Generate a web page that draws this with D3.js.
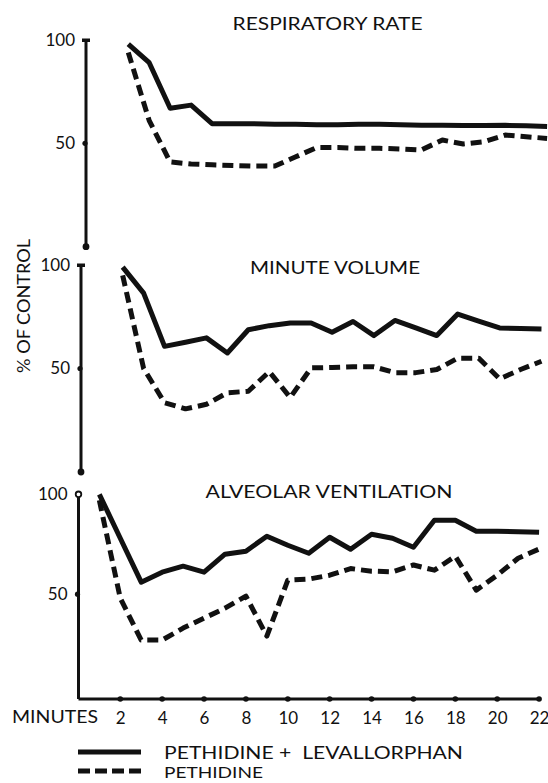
<!DOCTYPE html>
<html><head><meta charset="utf-8">
<script src="https://cdn.jsdelivr.net/npm/d3@7"></script>
<style>
html,body{margin:0;padding:0;background:#fff;}
svg{display:block;}
text{font-family:Lato,"Open Sans",sans-serif;fill:#111;}
</style></head><body>
<svg id="chart" width="548" height="783"></svg>
<script>
// ---------------- data ----------------
const panelTitles = ["RESPIRATORY RATE", "MINUTE VOLUME", "ALVEOLAR VENTILATION"];
const seriesNames = ["PETHIDINE +  LEVALLORPHAN", "PETHIDINE"];

const minutesRR = [2,3,4,5,6,7,8,9,10,11,12,13,14,15,16,17,18,19,20,21,22];
const rrLevallorphan = [98,89,67,68.5,59.5,59.5,59.5,59.3,59.2,59,59,59.2,59.2,59,58.8,58.7,58.6,58.6,58.7,58.5,58.2];
const rrPethidine    = [94,61,41,40,39.6,39.3,39,39,43.5,48,48,47.6,47.6,47.3,46.8,51.6,49.7,50.8,54,53.2,52.4];

const minutesMV = [2,3,4,5,6,7,8,9,10,11,12,13,14,15,16,17,18,19,20,21,22];
const mvLevallorphan = [99,86.4,60.7,62.7,64.8,57.5,68.7,70.7,72,72,67.5,72.7,65.9,73.2,69.6,65.9,76.3,72.9,69.6,69.3,69.1];
const mvPethidine    = [95,50,33.5,30.5,32.7,38.3,39,48.5,36,50.3,50.5,50.8,50.8,48,48,49.5,55,55,45,49.5,53.5];

const minutesAV = [1,2,3,4,5,6,7,8,9,10,11,12,13,14,15,16,17,18,19,20,21,22];
const avLevallorphan = [100,78,56,61,64,61,70,71.5,79,74.5,70.5,78.5,72.5,80,78,73.5,87,87,81.5,81.5,81.3,81];
const avPethidine    = [97,48,27,27,33,38,43,49,29,57,57.5,59.5,62.8,61.5,61.2,64.6,62,69,52,59.5,68,72.6];

const yTickValues = [50, 100];
const xTickValues = [2,4,6,8,10,12,14,16,18,20,22];
const xAxisLabel = "MINUTES";
const yAxisLabel = "% OF CONTROL";

// ---------------- layout ----------------
const svg = d3.select("#chart");
const PX_PER_MIN = 20.94;
const panels = [
  {title: panelTitles[0], minutes: minutesRR, solid: rrLevallorphan, dashed: rrPethidine,
   x0: 86.4, axisX: 86, yTop: 40, yBottom: 246.7, axisEnd: 246.7, titleX: 327.5, titleY: 30, titleW: 190, topMark: "bar"},
  {title: panelTitles[1], minutes: minutesMV, solid: mvLevallorphan, dashed: mvPethidine,
   x0: 80.8, axisX: 81, yTop: 265, yBottom: 472, axisEnd: 472, titleX: 335, titleY: 274, titleW: 170, topMark: "bar"},
  {title: panelTitles[2], minutes: minutesAV, solid: avLevallorphan, dashed: avPethidine,
   x0: 78.4, axisX: 78.5, yTop: 494.3, yBottom: 694, axisEnd: 699, titleX: 329, titleY: 497.5, titleW: 247, topMark: "ring"}
];

const INK = "#111";
const LINE_W = 5;
const DASH = "11,6";

panels.forEach((p, i) => {
  const g = svg.append("g");
  const x = d3.scaleLinear().domain([0, 22]).range([p.x0, p.x0 + 22 * PX_PER_MIN]);
  const y = d3.scaleLinear().domain([0, 100]).range([p.yBottom, p.yTop]);

  g.append("text").attr("x", p.titleX).attr("y", p.titleY)
    .attr("text-anchor", "middle").attr("font-size", 17)
    .attr("textLength", p.titleW).attr("lengthAdjust", "spacingAndGlyphs")
    .text(p.title);

  g.append("line").attr("x1", p.axisX).attr("x2", p.axisX)
    .attr("y1", y(100)).attr("y2", p.axisEnd)
    .attr("stroke", INK).attr("stroke-width", 3);

  const ax = g.append("g").attr("transform", `translate(${p.axisX},0)`)
    .call(d3.axisLeft(y).tickValues(yTickValues).tickSize(0).tickPadding(11));
  ax.select(".domain").remove();
  ax.selectAll("text").attr("font-size", 17).attr("font-family", "Lato, 'Open Sans', sans-serif").attr("fill", INK);

  if (p.topMark === "bar") {
    g.append("rect").attr("x", p.axisX - 4).attr("y", y(100) - 1.5).attr("width", 8).attr("height", 3.5).attr("fill", INK);
  } else {
    g.append("circle").attr("cx", p.axisX).attr("cy", y(100)).attr("r", 2.8)
      .attr("fill", "#fff").attr("stroke", INK).attr("stroke-width", 1.8);
  }
  g.append("circle").attr("cx", p.axisX - 1).attr("cy", y(50)).attr("r", 2.6).attr("fill", INK);
  if (i < 2) {
    g.append("circle").attr("cx", p.axisX).attr("cy", y(0)).attr("r", 3.4).attr("fill", INK);
  }

  const line = d3.line().x(d => x(d[0])).y(d => y(d[1]));
  const solidData = p.minutes.map((m, k) => [m, p.solid[k]]);
  const dashedData = p.minutes.map((m, k) => [m, p.dashed[k]]);

  g.append("path").datum(dashedData).attr("d", line)
    .attr("fill", "none").attr("stroke", INK).attr("stroke-width", LINE_W)
    .attr("stroke-dasharray", DASH).attr("stroke-linejoin", "round");
  g.append("path").datum(solidData).attr("d", line)
    .attr("fill", "none").attr("stroke", INK).attr("stroke-width", LINE_W)
    .attr("stroke-linejoin", "round");

  if (i === 2) {
    const xa = g.append("g").attr("transform", `translate(0,${p.axisEnd})`)
      .call(d3.axisBottom(x).tickValues(xTickValues).tickSize(0).tickSizeOuter(0).tickPadding(13));
    xa.select(".domain").attr("stroke", INK).attr("stroke-width", 3)
      .attr("d", `M${p.axisX},0H${x(22)}`);
    xa.selectAll("text").attr("font-size", 17).attr("font-family", "Lato, 'Open Sans', sans-serif").attr("fill", INK);
    g.selectAll("circle.xdot").data(xTickValues).enter().append("circle")
      .attr("class", "xdot").attr("cx", d => x(d)).attr("cy", p.axisEnd).attr("r", 2.8).attr("fill", INK);

    g.append("text").attr("x", 12).attr("y", 723).attr("font-size", 17)
      .attr("textLength", 86).attr("lengthAdjust", "spacingAndGlyphs").text(xAxisLabel);
  }
});

svg.append("text").attr("transform", "translate(30,306) rotate(-90)")
  .attr("text-anchor", "middle").attr("font-size", 18)
  .attr("textLength", 134).attr("lengthAdjust", "spacingAndGlyphs").text(yAxisLabel);

const legend = svg.append("g");
const legendRows = [{y: 752, ty: 758.5, dash: null, w: 299, fs: 17}, {y: 771, ty: 778, dash: "12,5", w: 99, fs: 16}];
legendRows.forEach((r, k) => {
  legend.append("line").attr("x1", 78).attr("x2", 141).attr("y1", r.y).attr("y2", r.y)
    .attr("stroke", INK).attr("stroke-width", 5).attr("stroke-dasharray", r.dash);
  legend.append("text").attr("x", 164).attr("y", r.ty).attr("font-size", r.fs)
    .attr("textLength", r.w).attr("lengthAdjust", "spacingAndGlyphs")
    .attr("xml:space", "preserve").style("white-space", "pre")
    .text(seriesNames[k]);
});
</script>
</body></html>
